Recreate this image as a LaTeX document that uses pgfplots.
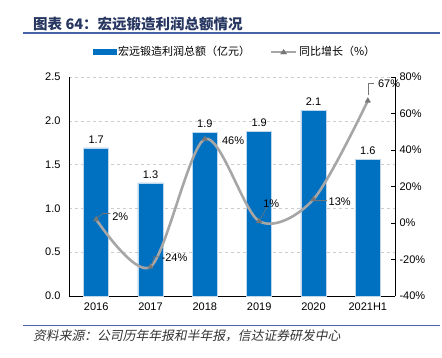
\documentclass[border=0pt]{standalone}
\usepackage{fontspec}
\setmainfont{Liberation Sans}
\newfontfamily\cjk{Noto Sans CJK SC}
\newfontfamily\cjkslant[FakeSlant=0.2]{Noto Sans CJK SC}
\usepackage{pgfplots}
\pgfplotsset{compat=1.18}
\definecolor{barblue}{RGB}{0,112,192}
\definecolor{baredge}{RGB}{189,215,238}
\definecolor{linegray}{RGB}{166,166,166}
\definecolor{markgray}{RGB}{118,118,118}
\definecolor{titleblue}{RGB}{38,54,96}
\definecolor{frameblue}{RGB}{70,100,165}
\definecolor{gridgray}{RGB}{205,205,205}
\pgfplotsset{/pgf/number format/assume math mode=true}
\begin{document}
\begin{tikzpicture}
\useasboundingbox (-69pt,-61pt) rectangle (373pt,296pt);
\begin{axis}[
  at={(0pt,0pt)}, anchor=south west,
  scale only axis, width=326pt, height=219pt,
  clip=false,
  xmin=-0.5, xmax=5.5, ymin=0, ymax=2.5,
  axis x line*=bottom, axis y line*=left,
  axis line style={black, line width=0.8pt},
  xtick={0,1,2,3,4,5},
  xticklabels={2016,2017,2018,2019,2020,2021H1},
  major x tick style={draw=none},
  extra x ticks={0.5,1.5,2.5,3.5,4.5},
  extra x tick labels={},
  extra x tick style={grid=none, tick align=inside, major tick length=4pt, tick style={draw=black, line width=0.6pt}},
  ytick={0,0.5,1,1.5,2,2.5},
  yticklabel={\pgfmathprintnumber[fixed,fixed zerofill,precision=1]{\tick}},
  major y tick style={draw=none},
  ymajorgrids, grid style={dashed, gridgray, line width=0.6pt},
  tick label style={font=\fontsize{11}{13}\selectfont},
  yticklabel style={xshift=-5pt},
  xticklabel style={yshift=-3pt},
  legend columns=2,
  legend style={draw=none, fill=none, at={(0.509,1.114)}, anchor=center,
    font=\fontsize{11}{13}\selectfont\cjk, /tikz/every even column/.append style={column sep=18pt}},
  legend cell align=left,
]
\addplot[ybar, bar width=25pt, fill=barblue, draw=baredge, line width=0.5pt,
  nodes near coords={\pgfmathprintnumber[fixed,fixed zerofill,precision=1]{\pgfplotspointmeta}},
  every node near coord/.append style={font=\fontsize{11}{13}\selectfont, black, yshift=1pt},
  legend image code/.code={\fill[barblue] (0pt,-2.5pt) rectangle (23pt,2.5pt);}]
  coordinates {(0,1.69) (1,1.29) (2,1.87) (3,1.88) (4,2.12) (5,1.56)};
\addlegendentry{宏远锻造利润总额（亿元）}
\addlegendimage{legend image code/.code={\draw[linegray,line width=2pt](0pt,0pt)--(25pt,0pt); \fill[markgray] (12.5pt,2.6pt)--(9.5pt,-2pt)--(15.5pt,-2pt)--cycle;}}
\addlegendentry{同比增长（\%）}
\draw[frameblue, line width=1.3pt] (rel axis cs:-0.1411,1.2009) -- (rel axis cs:1.138,1.2009);
\draw[frameblue, line width=1.3pt] (rel axis cs:-0.1411,-0.1356) -- (rel axis cs:1.138,-0.1356);
\end{axis}
\begin{axis}[
  at={(0pt,0pt)}, anchor=south west,
  scale only axis, width=326pt, height=219pt,
  xmin=-0.5, xmax=5.5, ymin=-40, ymax=80,
  axis x line=none, axis y line*=right,
  axis line style={black, line width=0.8pt},
  ytick={-40,-20,0,20,40,60,80},
  yticklabel={\pgfmathprintnumber{\tick}\%},
  tick align=inside, major tick length=4pt,
  major y tick style={draw=black, line width=0.6pt},
  tick label style={font=\fontsize{11}{13}\selectfont},
  yticklabel style={xshift=1pt},
]
\addplot[smooth, tension=0.5, linegray, line width=2.6pt, mark=triangle*, mark size=3.2pt,
  mark options={fill=markgray, draw=markgray, line width=0.3pt}]
  coordinates {(0,2) (1,-24) (2,46) (3,1) (4,13) (5,67)};
% leader lines
\addplot[markgray, line width=0.6pt, mark=none] coordinates {(0.02,2.8) (0.12,5.2) (0.26,5.2)};
\addplot[markgray, line width=0.6pt, mark=none] coordinates {(1.03,-22.5) (1.06,-18.5) (1.17,-18.5)};
\addplot[markgray, line width=0.6pt, mark=none] coordinates {(3.03,2.5) (3.14,8.5)};
\addplot[markgray, line width=0.6pt, mark=none] coordinates {(4.04,12.5) (4.25,12.5)};
\addplot[markgray, line width=0.6pt, mark=none] coordinates {(5,70) (5,76.5) (5.12,76.5)};
% data labels
\addplot[draw=none, mark=none, nodes near coords={\pgfplotspointmeta\%},
  point meta=explicit symbolic,
  visualization depends on={value \thisrow{dx}\as\dx},
  visualization depends on={value \thisrow{dy}\as\dy},
  every node near coord/.append style={anchor=west, inner sep=1pt, xshift=\dx pt, yshift=\dy pt, font=\fontsize{11}{13}\selectfont, black}]
  table[x=x, y=y, meta=lab] {
x y lab dx dy
0 2 2 15 3
1 -24 -24 10 9
2 46 46 16 -2
3 1 1 3 17
4 13 13 14 -2
5 67 67 9 17
};
\end{axis}
\node[anchor=west, inner sep=0pt, text=titleblue, font=\fontsize{14.5}{16}\selectfont\cjk\bfseries] at (-36pt,272pt) {图表 64：宏远锻造利润总额情况};
\node[anchor=west, inner sep=0pt, text=black!80, font=\fontsize{12.8}{15}\selectfont\cjkslant] at (-36pt,-40pt) {资料来源：公司历年年报和半年报，信达证券研发中心};
\end{tikzpicture}
\end{document}
